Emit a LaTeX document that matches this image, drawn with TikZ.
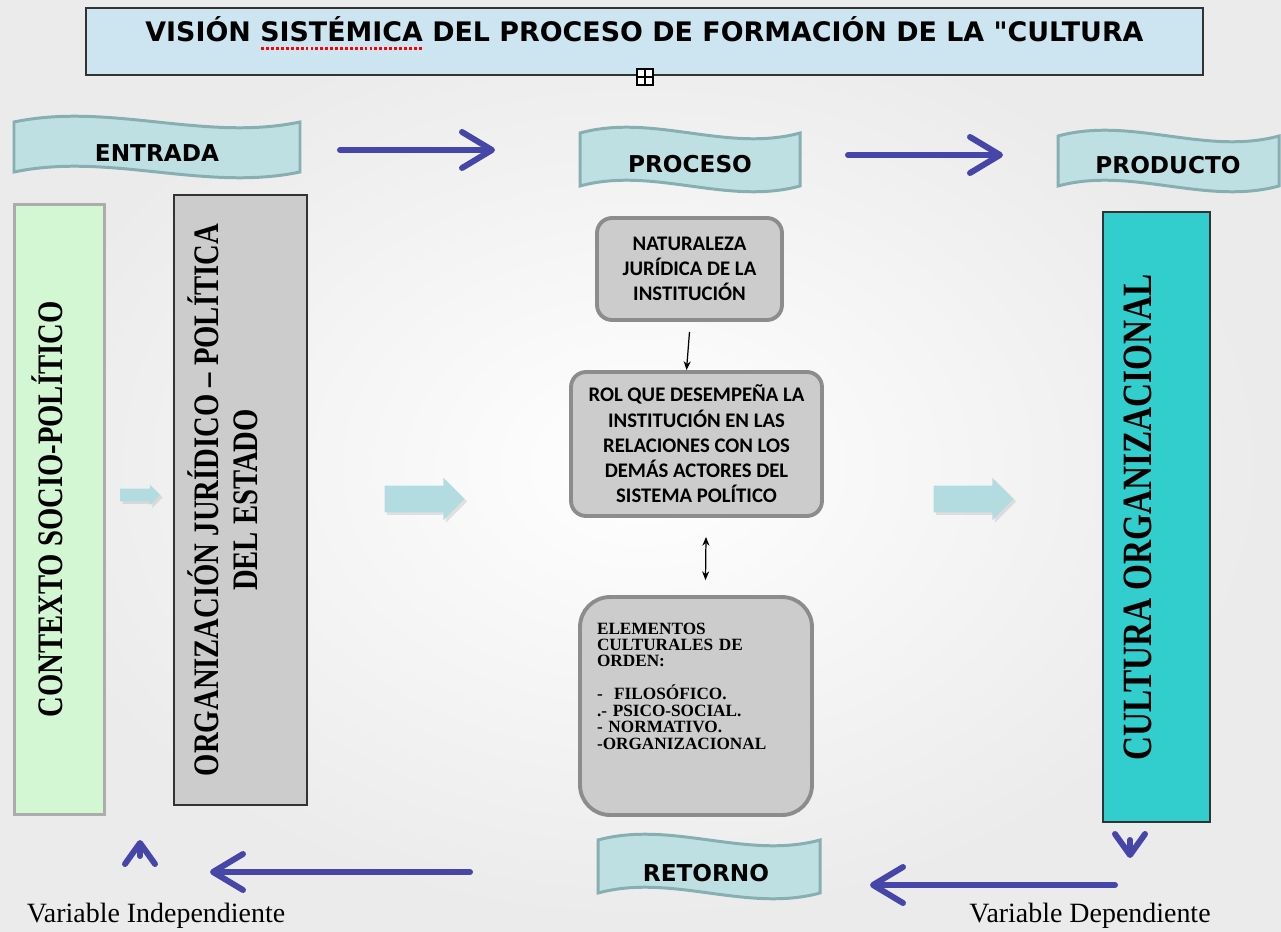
\documentclass[tikz,border=0pt]{standalone}
\usepackage{fontspec}
\setmainfont{Liberation Serif}
\newfontfamily\calibri{Carlito}
\newfontfamily\tahoma{DejaVu Sans}
\newfontfamily\estrecha[FakeStretch=0.8]{Liberation Serif}
\usetikzlibrary{arrows.meta,shapes.arrows,shadows}
\definecolor{azul}{RGB}{70,70,168}
\definecolor{celeste}{RGB}{204,229,240}
\definecolor{cinta}{RGB}{190,224,226}
\definecolor{cintaborde}{RGB}{135,175,178}
\definecolor{verde}{RGB}{210,247,210}
\definecolor{turquesa}{RGB}{50,205,205}
\definecolor{gris}{RGB}{204,204,204}
\definecolor{flechita}{RGB}{178,220,224}
\tikzset{box node/.style={rectangle,draw=black!80,line width=1.1pt,rotate=90,inner sep=0pt,align=center,font=\estrecha\bfseries},
         round box/.style={rectangle,rounded corners=0.3cm,fill=gris,draw=black!45,line width=2.2pt,inner sep=0pt,align=center,font=\calibri\bfseries\fontsize{11.8}{14.4}\selectfont},
         wave/.style={fill=cinta,draw=cintaborde,line width=1.7pt},
         wave label/.style={font=\tahoma\bfseries\fontsize{13.2}{16}\selectfont},
         blue arrow/.style={azul,line width=3.4pt,line cap=round,-{Straight Barb[round,length=0.6cm,width=0.72cm]}},
         chevron/.style={azul,line width=3.4pt,line cap=round,-{Straight Barb[round,length=0.42cm,width=0.6cm]}},
         fat arrow/.style={single arrow,fill=flechita,inner xsep=0pt,single arrow head indent=0pt,drop shadow={opacity=0.2,shadow xshift=0.05cm,shadow yshift=-0.05cm}},
         var label/.style={font=\fontsize{15.9}{18}\selectfont},
}
% banda ondulada: x0 y0 x1 y1
\newcommand\ola[4]{\draw[wave] (#1,#2) .. controls ({#1+(#3-#1)/3},#2-20) and ({#1+2*(#3-#1)/3},#2+20) .. (#3,#2)
    -- (#3,#4) .. controls ({#1+2*(#3-#1)/3},#4+20) and ({#1+(#3-#1)/3},#4-20) .. (#1,#4) -- cycle;}
% subrayado rojo de punticos
\newcommand\subrayado[1]{\setbox0\hbox{#1}\rlap{\color{red}\raisebox{-4.5pt}{\hbox to \wd0{\leaders\hbox to 2.8pt{\hss\rule{1.6pt}{1.6pt}\hss}\hfill}}}#1}

\begin{document}
\begin{tikzpicture}[x=0.02cm,y=-0.02cm,>={Stealth[length=5pt,width=4pt]}]
\shade[inner color=white,outer color=gray!16] (0,0) rectangle (1281,932);
\useasboundingbox (0,0) rectangle (1281,932);
% titulo
\node[draw=black!80,line width=1.2pt,fill=celeste,minimum width=22.34cm,inner sep=0pt,
      text height=0.68cm,text depth=0.66cm,font=\tahoma\bfseries\fontsize{15.3}{18}\selectfont] (titulo) at (644.5,41.5)
      {VISIÓN \subrayado{SISTÉMICA} DEL PROCESO DE FORMACIÓN DE LA "CULTURA};
\node[draw=black,fill=white,line width=0.8pt,minimum size=0.32cm,inner sep=0pt,
      path picture={\draw[line width=0.7pt] (path picture bounding box.north) -- (path picture bounding box.south)
                    (path picture bounding box.west) -- (path picture bounding box.east);}] (mas) at (645,77) {};

% bandas
\ola{14}{122}{300}{172}
\node[wave label] (entrada) at (157,153) {ENTRADA};
\ola{580}{133}{800}{186}
\node[wave label] (proceso) at (690,164) {PROCESO};
\ola{1058}{136}{1279}{186}
\node[wave label] (producto) at (1168,165) {PRODUCTO};
\ola{598}{840}{820}{893}
\node[wave label] (retorno) at (706,873) {RETORNO};

% flechas azules
\coordinate (a1) at (340,150); \coordinate (b1) at (495,150);
\coordinate (a2) at (848,155); \coordinate (b2) at (1003,155);
\coordinate (a3) at (1115,885); \coordinate (b3) at (870,885);
\coordinate (a4) at (470,872); \coordinate (b4) at (210,872);
\coordinate (a5) at (140,856); \coordinate (b5) at (140,840);
\coordinate (a6) at (1130,840); \coordinate (b6) at (1130,858);
\draw[blue arrow] (a1) -- (b1);
\draw[blue arrow] (a2) -- (b2);
\draw[blue arrow] (a3) -- (b3);
\draw[blue arrow] (a4) -- (b4);
\draw[chevron] (a5) -- (b5);
\draw[chevron] (a6) -- (b6);

% cajas verticales
\node[box node,fill=verde,draw=gray!65,line width=1.7pt,minimum width=12.22cm,minimum height=1.82cm,
      text height=0.48cm,text depth=0.36cm,font=\estrecha\bfseries\fontsize{20.4}{22}\selectfont] (contexto) at (59.5,509.5)
      {CONTEXTO SOCIO-POLÍTICO};
\node[box node,fill=gris,minimum width=12.2cm,minimum height=2.66cm,
      text height=1.26cm,text depth=0.6cm,font=\estrecha\bfseries\fontsize{20.4}{22.1}\selectfont] (organizacion) at (240.5,500)
      {ORGANIZACIÓN JURÍDICO – POLÍTICA\\DEL ESTADO};
\node[box node,fill=turquesa,minimum width=12.2cm,minimum height=2.14cm,
      text height=0.55cm,text depth=0.74cm,font=\estrecha\bfseries\fontsize{23.7}{26}\selectfont] (cultura) at (1156.5,517)
      {CULTURA ORGANIZACIONAL};

% flechas gruesas
\node[fat arrow,minimum height=0.8cm,inner ysep=0.12cm,single arrow head extend=0.08cm] (f1) at (137,495) {};
\node[fat arrow,minimum height=1.6cm,inner ysep=0.26cm,single arrow head extend=0.16cm] (f2) at (418,499) {};
\node[fat arrow,minimum height=1.6cm,inner ysep=0.26cm,single arrow head extend=0.16cm] (f3) at (967,499) {};

% proceso
\node[round box,minimum width=3.7cm,minimum height=2.04cm] (naturaleza) at (689.5,269)
      {NATURALEZA\\JURÍDICA DE LA\\INSTITUCIÓN};
\node[round box,minimum width=5.02cm,minimum height=2.88cm] (rol) at (696.5,444)
      {ROL QUE DESEMPEÑA LA\\INSTITUCIÓN EN LAS\\RELACIONES CON LOS\\DEMÁS ACTORES DEL\\SISTEMA POLÍTICO};
\node[round box,rounded corners=0.6cm,minimum width=4.64cm,minimum height=4.36cm,align=left,
      inner xsep=0.34cm,inner ysep=0.36cm,text width=3.96cm,text height=0.38cm,text depth=3.26cm,
      font=\bfseries\fontsize{9.8}{9.35}\selectfont] (elementos) at (696,706)
      {ELEMENTOS\\CULTURALES DE\\ORDEN:\\[9.35pt]-\ \ FILOSÓFICO.\\.- PSICO-SOCIAL.\\- NORMATIVO.\\-ORGANIZACIONAL};
\draw[->,line width=0.7pt] ([yshift=-0.2cm]naturaleza.south) -- ([xshift=-0.2cm]rol.north);
\draw[<->,line width=0.7pt] ([xshift=0.19cm,yshift=-0.38cm]rol.south) -- ([xshift=0.19cm,yshift=0.3cm]elementos.north);

% variables
\node[var label] (independiente) at (156,916) {Variable Independiente};
\node[var label] (dependiente) at (1090,916) {Variable Dependiente};
\end{tikzpicture}
\end{document}
